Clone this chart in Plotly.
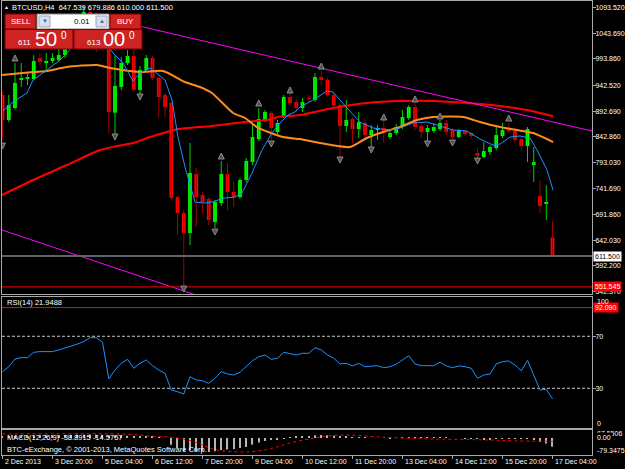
import plotly.graph_objects as go

W, H = 625, 469
FONT = "Liberation Sans, Arial, sans-serif"

# ---------------- data ----------------
bar_idx = list(range(89))
opens = [923.8, 875.3, 898.6, 953.0, 955.0, 954.9, 995.6, 987.0, 989.8, 991.7,
         1001.4, 1030.0, 1055.0, 1040.0, 1085.0, 1060.0, 1040.0, 1055.0, 889.5, 939.3,
         985.9, 999.5, 933.5, 972.3, 995.6, 956.8, 923.8, 908.3, 725.9, 694.9,
         656.1, 770.6, 729.8, 722.1, 677.4, 714.3, 770.6, 735.6, 725.9, 758.9,
         793.8, 838.4, 875.3, 888.9, 852.0, 881.2, 919.9, 910.2, 898.6, 918.0,
         914.1, 958.7, 952.9, 923.8, 904.4, 863.7, 877.3, 857.8, 869.5, 846.2,
         856.8, 859.8, 842.3, 850.1, 861.7, 879.2, 900.5, 863.7, 852.0, 854.0,
         857.8, 869.5, 855.9, 842.3, 854.0, 850.1, 811.3, 803.5, 813.2, 820.9,
         844.3, 859.8, 854.0, 838.4, 824.8, 788.0, 727.9, 714.3, 647.539]
highs = [930.0, 923.8, 985.9, 985.9, 968.4, 1001.4, 1005.3, 1005.3, 1005.3, 1020.8,
         1040.0, 1065.0, 1068.0, 1098.0, 1094.0, 1085.0, 1065.0, 1060.0, 1001.0, 997.5,
         1011.1, 1011.0, 980.0, 1001.4, 999.5, 960.6, 927.7, 910.2, 727.9, 700.7,
         830.7, 782.2, 735.6, 725.9, 720.1, 795.8, 791.9, 757.0, 762.8, 801.6,
         869.5, 898.6, 894.7, 892.8, 875.3, 923.8, 927.7, 916.1, 918.0, 923.8,
         966.5, 970.4, 956.8, 927.7, 908.3, 914.1, 881.2, 890.8, 875.3, 865.6,
         865.6, 875.3, 854.0, 867.6, 894.7, 904.4, 908.3, 871.4, 865.6, 869.5,
         875.3, 875.3, 859.8, 857.8, 855.9, 852.0, 820.9, 832.6, 826.8, 865.6,
         869.5, 869.5, 859.8, 842.3, 861.7, 822.9, 758.9, 749.2, 679.886]
lows = [838.0, 871.4, 894.7, 939.3, 943.2, 952.9, 982.0, 968.4, 985.9, 987.8,
        995.0, 1022.0, 1030.0, 1035.0, 1050.0, 1007.0, 1030.0, 850.1, 846.2, 933.5,
        982.0, 929.6, 925.8, 968.4, 952.9, 881.2, 881.2, 720.0, 652.2, 551.5,
        632.8, 667.7, 694.9, 671.6, 665.8, 708.5, 700.7, 706.5, 722.1, 755.0,
        788.0, 834.5, 871.4, 836.5, 848.1, 879.2, 902.5, 890.8, 890.8, 910.2,
        910.2, 943.2, 921.9, 900.5, 803.5, 852.0, 830.7, 840.4, 836.5, 822.9,
        836.5, 830.7, 838.4, 846.2, 857.8, 875.3, 855.9, 840.4, 832.6, 850.1,
        854.0, 846.2, 832.6, 840.4, 844.3, 840.4, 801.6, 801.6, 807.4, 817.1,
        840.4, 850.1, 830.7, 817.1, 793.8, 755.0, 694.9, 681.3, 610.0]
closes = [875.3, 904.4, 947.1, 956.0, 957.0, 989.8, 987.8, 989.0, 995.6, 1001.4,
          1030.0, 1055.0, 1040.0, 1085.0, 1060.0, 1040.0, 1055.0, 890.8, 941.3, 985.9,
          999.5, 933.5, 972.3, 995.6, 956.8, 919.9, 900.5, 724.0, 694.9, 656.1,
          772.5, 725.9, 716.2, 681.3, 716.2, 770.6, 735.6, 725.9, 758.9, 795.8,
          842.3, 877.3, 890.8, 859.8, 869.5, 919.9, 908.3, 898.6, 910.2, 916.1,
          958.7, 952.9, 923.8, 904.4, 863.7, 875.3, 857.8, 871.4, 846.2, 855.9,
          857.8, 850.1, 850.1, 861.7, 881.2, 900.5, 861.7, 852.0, 859.8, 861.7,
          869.5, 852.0, 842.3, 854.0, 848.1, 844.3, 805.5, 815.1, 822.9, 846.2,
          855.9, 854.0, 836.5, 824.8, 857.8, 793.8, 708.5, 716.2, 611.5]

# moving averages (read at sample bars)
blue_x = [0.08, 1.68, 3.92, 4.88, 7.12, 9.2, 10.32, 12, 14, 16, 17.68, 19.28, 20.88, 22.0, 23.6,
          24.4, 26.0, 27.12, 28.08, 29.2, 30.8, 32.4, 33.52, 34.48, 35.6, 37.2, 38.32, 39.92,
          41.52, 43.12, 44.08, 45.68, 46.8, 47.6, 49.68, 51.92, 52.88, 55.12, 57.2, 59.28, 62.0,
          63.6, 65.68, 67.92, 70.0, 72.08, 74.32, 76.4, 78.48, 79.6, 81.2, 82.8, 84.4, 85.52,
          87.12, 88.08]
blue_y = [892.8, 910.2, 927.7, 952.9, 972.3, 991.7, 1005.3, 1030.5, 1049.9, 1034.4, 1005.3,
          985.9, 951.0, 966.5, 976.2, 968.4, 952.9, 914.1, 842.3, 784.1, 716.2, 714.3, 716.2,
          720.1, 724.0, 725.9, 733.7, 772.5, 817.1, 850.1, 865.6, 885.0, 890.8, 900.5, 914.1,
          931.6, 929.6, 898.6, 871.4, 859.8, 855.9, 859.8, 869.5, 871.4, 863.7, 855.9, 854.0,
          838.4, 826.8, 828.7, 842.3, 844.3, 840.4, 817.1, 778.3, 739.5]
orange_x = [-0.08, 4.9, 7.1, 10.3, 15.1, 17.2, 22.0, 25.7, 29.2, 31.6, 33.5, 36.9, 38.8, 40.7,
            44.9, 47.6, 50.8, 55.6, 58.3, 60.9, 63.6, 66.3, 68.9, 73.7, 76.4, 79.6, 82.3, 84.9, 88.1]
orange_y = [962.6, 968.4, 970.4, 978.1, 982.0, 976.2, 968.4, 970.4, 949.0, 939.3, 927.7, 888.9,
            879.2, 861.7, 842.3, 838.4, 830.7, 822.9, 840.4, 852.0, 861.7, 875.3, 881.2, 881.2,
            871.4, 861.7, 855.9, 850.1, 832.6]
red_x = [-0.08, 4.9, 10.3, 15.6, 18.3, 20.9, 23.6, 26.3, 28.1, 33.5, 38.8, 42.3, 44.1, 47.6,
         52.9, 58.3, 63.6, 68.9, 74.3, 79.6, 83.9, 88.1]
red_y = [729.8, 758.9, 788.0, 817.1, 824.8, 830.7, 842.3, 852.0, 857.8, 863.7, 871.4, 875.3,
         881.2, 885.0, 898.6, 908.3, 912.2, 912.2, 908.3, 902.5, 894.7, 882.7]

# fractals
up_bars = [2, 35, 41, 46, 51, 61, 66, 70, 81]
up_prices = [1001.4, 811.3, 914.1, 939.3, 985.9, 887.0, 921.9, 888.9, 885.0]
dn_bars = [0, 18, 22, 29, 34, 43, 54, 59, 68, 72, 76]
dn_prices = [819.0, 836.5, 914.1, 541.6, 652.2, 822.9, 791.9, 811.3, 822.9, 824.8, 790.0]

# trendlines (bar, price) and horizontal levels
trend_upper_x = [16, 94.32]
trend_upper_y = [1074.0, 854.0]
trend_lower_x = [-0.08, 32]
trend_lower_y = [661.9, 531.6]
bid_level = 611.5
low_level = 551.545
rsi_level = 92.09

price_ticks = [1093.52, 1043.69, 993.86, 942.52, 892.69, 842.86, 793.03, 741.69, 691.86,
               642.03, 592.20, 542.37]

rsi = [42.8, 46.6, 52.5, 53.6, 53.6, 57.7, 58.2, 58.2, 58.2, 59.5,
       60.8, 62.5, 64.1, 65.9, 68.9, 68.9, 65.4, 37.2, 44.1, 49.2,
       52.3, 45.4, 49.2, 51.8, 47.4, 44.1, 41.5, 28.7, 27.4, 25.6,
       38.9, 36.4, 35.8, 33.8, 37.7, 42.8, 41.0, 40.2, 42.3, 46.6,
       51.2, 54.3, 55.6, 52.3, 53.1, 57.7, 56.9, 55.6, 56.9, 56.9,
       61.2, 59.5, 55.6, 53.1, 48.7, 49.2, 47.2, 49.2, 46.6, 47.2,
       47.4, 45.8, 46.6, 48.5, 51.8, 55.1, 48.7, 47.4, 47.4, 47.4,
       50.0, 47.2, 45.8, 47.2, 46.6, 45.4, 37.7, 40.2, 41.0, 48.7,
       50.5, 51.0, 47.9, 43.5, 51.5, 40.2, 28.7, 29.2, 21.9488]

macd_main = [6, 7, 8, 9, 10, 11, 12, 12, 13, 13,
             14, 14, 15, 15, 16, 15, 14, 10, 9, 9,
             10, 8, 9, 7, 5, 3, 0, -30, -45, -58,
             -55, -58, -60, -63, -60, -54, -52, -49, -45, -40,
             -30, -20, -13, -9, -5, -2, 2, 5, 7, 9,
             12, 13, 12, 10, 6, 5, 3, 2, 1, 0,
             0, 0, -1, 0, 2, 4, 3, 2, 1, 1,
             2, 1, 0, 0, -1, -1, -4, -5, -5, -3,
             -2, -1, -2, -4, -2, -8, -18, -25, -38.8915]
sig_x = [0, 8, 16, 20, 24, 27, 30, 32, 34, 38, 41, 44, 46, 49, 52, 56, 60, 64, 68, 72, 78, 82, 88]
sig_y = [18, 19, 19, 17, 8, 4, -12, -31, -52, -63, -58, -40, -22, -5, 9, 13, 5, 0, -4, -6, -9,
         -13, -14.5757]

xlabel_bars = [0, 8, 16, 24, 32, 40, 48, 56, 64, 72, 80, 88]
xlabels = ['2 Dec 2013', '3 Dec 20:00', '5 Dec 04:00', '6 Dec 12:00', '7 Dec 20:00',
           '9 Dec 04:00', '10 Dec 12:00', '11 Dec 20:00', '13 Dec 04:00', '14 Dec 12:00',
           '15 Dec 20:00', '17 Dec 04:00']

# ---------------- figure ----------------
fig = go.Figure()


def PX(px):
    return px / W


def PY(py):
    return 1 - py / H


up = [i for i in bar_idx if closes[i] >= opens[i]]
dn = [i for i in bar_idx if closes[i] < opens[i]]


def wicks(idx):
    xs, ys = [], []
    for i in idx:
        xs += [i, i, None]
        ys += [lows[i], highs[i], None]
    return xs, ys


MIN_BODY = 1.8


def bodies(idx):
    base, hgt = [], []
    for i in idx:
        lo, hi = min(opens[i], closes[i]), max(opens[i], closes[i])
        if hi - lo < MIN_BODY:
            mid = (hi + lo) / 2
            lo, hi = mid - MIN_BODY / 2, mid + MIN_BODY / 2
        base.append(lo)
        hgt.append(hi - lo)
    return base, hgt


for idx, wcol, bcol in [(up, '#00d000', '#00ff00'), (dn, '#a00000', '#ff0000')]:
    wx, wy = wicks(idx)
    fig.add_trace(go.Scatter(x=wx, y=wy, mode='lines', line=dict(color=wcol, width=1),
                             hoverinfo='skip', xaxis='x', yaxis='y'))
    b, h = bodies(idx)
    fig.add_trace(go.Bar(x=idx, y=h, base=b, width=0.6, marker=dict(color=bcol, line=dict(width=0)),
                         hoverinfo='skip', xaxis='x', yaxis='y'))

fig.add_trace(go.Scatter(x=red_x, y=red_y, mode='lines', line=dict(color='#ff0000', width=2, shape='spline', smoothing=0.6),
                         xaxis='x', yaxis='y', hoverinfo='skip'))
fig.add_trace(go.Scatter(x=orange_x, y=orange_y, mode='lines', line=dict(color='#ff8c1a', width=2, shape='spline', smoothing=0.6),
                         xaxis='x', yaxis='y', hoverinfo='skip'))
fig.add_trace(go.Scatter(x=blue_x, y=blue_y, mode='lines', line=dict(color='#1e90ff', width=1),
                         xaxis='x', yaxis='y', hoverinfo='skip'))

XR = [-0.08, 94.32]
fig.add_trace(go.Scatter(x=trend_upper_x, y=trend_upper_y, mode='lines', line=dict(color='#ff00ff', width=1),
                         xaxis='x', yaxis='y', hoverinfo='skip'))
fig.add_trace(go.Scatter(x=trend_lower_x, y=trend_lower_y, mode='lines', line=dict(color='#ff00ff', width=1),
                         xaxis='x', yaxis='y', hoverinfo='skip'))
fig.add_trace(go.Scatter(x=XR, y=[bid_level] * 2, mode='lines', line=dict(color='#5f646c', width=2),
                         xaxis='x', yaxis='y', hoverinfo='skip'))
fig.add_trace(go.Scatter(x=XR, y=[low_level] * 2, mode='lines', line=dict(color='#ff0000', width=1),
                         xaxis='x', yaxis='y', hoverinfo='skip'))

frac_marker = dict(size=6, color='#505050', line=dict(color='#8c8c8c', width=1))
fig.add_trace(go.Scatter(x=up_bars, y=up_prices, mode='markers',
                         marker=dict(symbol='arrow-up', **frac_marker),
                         xaxis='x', yaxis='y', hoverinfo='skip'))
fig.add_trace(go.Scatter(x=dn_bars, y=dn_prices, mode='markers',
                         marker=dict(symbol='arrow-down', **frac_marker),
                         xaxis='x', yaxis='y', hoverinfo='skip'))

# RSI
fig.add_trace(go.Scatter(x=XR, y=[70, 70], mode='lines', line=dict(color='#c8c8c8', width=1, dash='3px,2px'),
                         xaxis='x2', yaxis='y2', hoverinfo='skip'))
fig.add_trace(go.Scatter(x=XR, y=[30, 30], mode='lines', line=dict(color='#c8c8c8', width=1, dash='3px,2px'),
                         xaxis='x2', yaxis='y2', hoverinfo='skip'))
fig.add_trace(go.Scatter(x=XR, y=[rsi_level] * 2, mode='lines', line=dict(color='#ff0000', width=1),
                         xaxis='x2', yaxis='y2', hoverinfo='skip'))
fig.add_trace(go.Scatter(x=bar_idx, y=rsi, mode='lines', line=dict(color='#1e90ff', width=1),
                         xaxis='x2', yaxis='y2', hoverinfo='skip'))

# MACD
fig.add_trace(go.Bar(x=bar_idx, y=macd_main, width=0.18, marker=dict(color='#b4b4b4', line=dict(width=0)),
                     xaxis='x3', yaxis='y3', hoverinfo='skip'))
fig.add_trace(go.Scatter(x=sig_x, y=sig_y, mode='lines', line=dict(color='#ff0000', width=1, dash='dot', shape='spline'),
                         xaxis='x3', yaxis='y3', hoverinfo='skip'))

LINE = '#a8a8a8'
ax = dict(showgrid=False, zeroline=False, showline=True, linecolor=LINE, linewidth=1, mirror=True)
xdom = [PX(2), PX(592)]
tickfont = dict(color='white', size=7, family=FONT)

yax_main = dict(domain=[PY(294), PY(1)], range=[537.8, 1106.2], anchor='x', side='right',
                tickvals=price_ticks, ticktext=[f'{v:.3f}' for v in price_ticks],
                ticks='outside', ticklen=3, tickcolor=LINE, tickfont=tickfont, **ax)
yax_rsi = dict(domain=[PY(428), PY(297)], range=[-0.54, 100.2], anchor='x2', side='right',
               tickvals=[70, 30], ticktext=['70', '30'], ticks='outside', ticklen=3, tickcolor=LINE,
               tickfont=tickfont, **ax)

fig.update_layout(
    width=W, height=H, margin=dict(l=0, r=0, t=0, b=0),
    paper_bgcolor='black', plot_bgcolor='black', showlegend=False, barmode='overlay',
    template='none', hovermode=False,
    xaxis=dict(domain=xdom, range=XR, anchor='y', showticklabels=False, ticks='', **ax),
    xaxis2=dict(domain=xdom, range=XR, anchor='y2', showticklabels=False, ticks='', **ax),
    xaxis3=dict(domain=xdom, range=XR, anchor='y3', showticklabels=False, tickvals=xlabel_bars,
                ticks='outside', ticklen=3, tickcolor=LINE, **ax),
    yaxis=yax_main,
    yaxis2=yax_rsi,
    yaxis3=dict(domain=[PY(455), PY(430)], range=[-76.5, 36], anchor='x3', side='right',
                showticklabels=False, ticks='', **ax),
)
try:
    fig.update_layout(yaxis_ticklabelstandoff=-2, yaxis2_ticklabelstandoff=-2)
except Exception:
    pass

ann = []


def txt(s, px, py, size=7, color='white', anchor='left', **kw):
    ann.append(dict(text=s, x=PX(px), y=PY(py), xref='paper', yref='paper', xanchor=anchor,
                    yanchor='middle', showarrow=False, font=dict(size=size, color=color, family=FONT), **kw))


# x labels
for b, s in zip(xlabel_bars, xlabels):
    ann.append(dict(text=s, x=b, y=PY(461), xref='x3', yref='paper', xanchor='left', yanchor='middle',
                    showarrow=False, font=dict(size=7, color='white', family=FONT)))

# right axis extra labels
ann.append(dict(text='611.500', x=PX(593), y=bid_level, xref='paper', yref='y', xanchor='left', yanchor='middle',
                showarrow=False, bgcolor='white', borderpad=1, font=dict(size=7, color='black', family=FONT)))
ann.append(dict(text='551.545', x=PX(593), y=low_level, xref='paper', yref='y', xanchor='left', yanchor='middle',
                showarrow=False, bgcolor='#ff0000', borderpad=1, font=dict(size=7, color='white', family=FONT)))
ann.append(dict(text='92.090', x=PX(593), y=rsi_level, xref='paper', yref='y2', xanchor='left', yanchor='middle',
                showarrow=False, bgcolor='#ff0000', borderpad=1, font=dict(size=7, color='white', family=FONT)))
txt('100', 595, 301)
txt('0', 595, 423)
txt('67.5506', 595, 433)
txt('0.00', 595, 437.5, bgcolor='black')
txt('-79.3475', 595, 450)

# panel labels
txt('BTCUSD,H4  647.539 679.886 610.000 611.500', 10, 7, size=7.5)
txt('▲', 2, 7, size=5)
txt('RSI(14) 21.9488', 5, 302.5, size=7.5)
txt('MACD(12,26,9) -38.8915 -14.5757', 5, 437.5, size=7.5)
txt('BTC-eExchange, © 2001-2013, MetaQuotes Software Corp.', 5, 449, size=7.5)

# one-click trading panel
shapes = []


def rect(x0, y0, x1, y1, fill, line='#7a0000', lw=1):
    shapes.append(dict(type='rect', xref='paper', yref='paper', x0=PX(x0), x1=PX(x1), y0=PY(y1), y1=PY(y0),
                       fillcolor=fill, line=dict(color=line, width=lw), layer='above'))


RED = '#cf2222'
rect(5, 14, 36, 29, RED)
rect(110, 14, 141, 29, RED)
rect(37, 14, 109, 29, '#ffffff', '#8a8a8a')
rect(39, 16, 50, 27, '#d9dfe9', '#a0a8b8')
rect(96, 16, 107, 27, '#d9dfe9', '#a0a8b8')
rect(5, 29.5, 73, 49, RED)
rect(74, 29.5, 142, 49, RED)
txt('SELL', 20.5, 21.5, size=8, anchor='center')
txt('BUY', 125.5, 21.5, size=8, anchor='center')
txt('▼', 44.5, 21.5, size=6, color='#3a64c0', anchor='center')
txt('▲', 101.5, 21.5, size=6, color='#3a64c0', anchor='center')
txt('0.01', 92, 21.5, size=8, color='black', anchor='right')
txt('611', 16, 43, size=8)
txt('50', 33, 39.5, size=20)
txt('0', 59, 35, size=10)
txt('613', 85, 43, size=8)
txt('00', 101, 39.5, size=20)
txt('0', 127, 35, size=10)

fig.update_layout(annotations=ann, shapes=shapes)
fig.write_html("out.html", config={'displayModeBar': False})
